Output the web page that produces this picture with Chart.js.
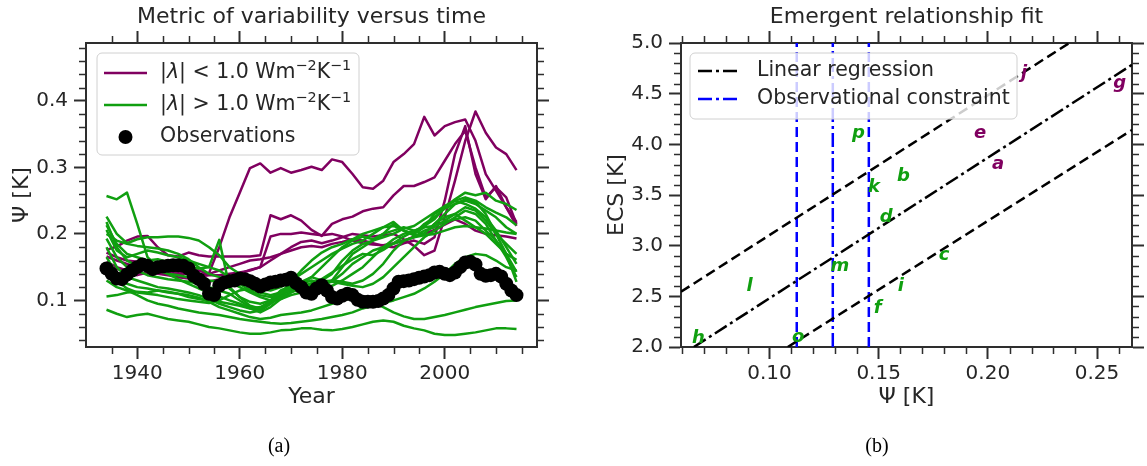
<!DOCTYPE html>
<html>
<head>
<meta charset="utf-8">
<script src="https://cdn.jsdelivr.net/npm/chart.js@4.4.1/dist/chart.umd.min.js"></script>
<style>
  body { margin: 0; background: #fff; width: 1147px; height: 466px; overflow: hidden; position: relative; }
  canvas { position: absolute; top: 0; }
  #panelA { left: 0; }
  #panelB { left: 573px; }
  .sub { position: absolute; top: 434px; font-family: "Liberation Serif", serif; font-size: 20px; color: #000; transform: translateX(-50%); }
</style>
</head>
<body>
<canvas id="panelA" width="573" height="466"></canvas>
<canvas id="panelB" width="574" height="466"></canvas>
<div class="sub" style="left:279px">(a)</div>
<div class="sub" style="left:877px">(b)</div>
<script>
// colours / fonts
const PURPLE = '#800060';
const GREEN = '#109f10';
const INK = '#262626';
const FRAME = '#2e2e2e';
const FONT = '"DejaVu Sans", sans-serif';

// ---- panel (a): metric of variability versus time ----
const obsYears = Array.from({length: 81}, (_, i) => 1934 + i);
const obsPsi = [
  0.148,0.140,0.133,0.132,0.139,0.145,0.150,0.154,0.152,0.147,
  0.150,0.151,0.152,0.153,0.153,0.152,0.148,0.137,0.132,0.125,
  0.110,0.108,0.122,0.127,0.129,0.130,0.133,0.132,0.129,0.125,
  0.121,0.124,0.127,0.128,0.130,0.131,0.134,0.126,0.120,0.112,
  0.110,0.118,0.123,0.115,0.105,0.103,0.107,0.110,0.108,0.101,
  0.098,0.098,0.098,0.099,0.103,0.108,0.118,0.128,0.129,0.130,
  0.132,0.134,0.136,0.138,0.142,0.143,0.140,0.138,0.142,0.150,
  0.157,0.158,0.154,0.140,0.137,0.138,0.140,0.136,0.125,0.115,
  0.108
];

const modelYears = Array.from({length: 41}, (_, i) => 1934 + 2 * i);

// models with |lambda| < 1.0
const lowLambda = [
  [.158,.150,.145,.148,.146,.146,.144,.142,.140,.138, .141,.180,.225,.262,.299,.306,.292,.299,.292,.296,
   .301,.296,.312,.308,.290,.270,.268,.280,.308,.320, .335,.376,.348,.362,.368,.372,.340,.290,.265,.240, .218],
  [.176,.181,.190,.196,.197,.180,.168,.166,.172,.168, .166,.166,.166,.166,.166,.168,.228,.222,.228,.220,
   .206,.197,.215,.222,.226,.234,.238,.240,.258,.272, .272,.278,.285,.310,.335,.355,.300,.255,.270,.255, .215],
  [.166,.160,.155,.150,.152,.146,.142,.140,.140,.136, .138,.138,.140,.142,.145,.150,.196,.200,.200,.202,
   .200,.198,.200,.196,.190,.186,.184,.183,.186,.190, .196,.200,.206,.214,.222,.215,.205,.200,.198,.196, .193],
  [.150,.148,.140,.138,.142,.140,.138,.135,.133,.130, .128,.132,.136,.140,.146,.150,.160,.170,.180,.188,
   .190,.186,.190,.195,.200,.198,.196,.198,.200,.192, .182,.168,.175,.225,.280,.340,.384,.352,.330,.320, .296],
  [.172,.165,.160,.158,.150,.150,.152,.155,.150,.145, .140,.145,.150,.155,.160,.162,.165,.170,.175,.180,
   .182,.180,.185,.188,.192,.190,.186,.182,.180,.186, .190,.185,.195,.250,.320,.362,.290,.252,.272,.240, .212]
];

// models with |lambda| > 1.0
const highLambda = [
  [.257,.252,.262,.215,.165,.150,.140,.132,.125,.118, .112,.106,.100,.095,.088,.082,.090,.102,.112,.120,
   .126,.132,.142,.152,.162,.170,.168,.176,.186,.196, .204,.212,.222,.240,.252,.262,.258,.262,.250,.245, .236],
  [.226,.200,.186,.192,.195,.195,.196,.196,.194,.190, .180,.168,.150,.140,.128,.118,.115,.120,.130,.140,
   .150,.160,.170,.178,.185,.190,.200,.210,.212,.205, .200,.210,.230,.240,.250,.255,.250,.240,.232,.225, .213],
  [.218,.180,.160,.152,.150,.145,.140,.138,.135,.132, .130,.128,.118,.105,.092,.088,.100,.115,.122,.125,
   .135,.150,.165,.180,.190,.196,.192,.200,.215,.205, .198,.200,.215,.225,.230,.220,.210,.200,.185,.170, .161],
  [.213,.185,.170,.165,.160,.162,.158,.155,.150,.148, .150,.191,.120,.105,.098,.095,.100,.110,.128,.145,
   .160,.172,.180,.185,.192,.200,.205,.210,.218,.205, .200,.215,.225,.238,.245,.252,.248,.230,.200,.170, .143],
  [.206,.175,.165,.170,.175,.172,.168,.165,.160,.155, .150,.145,.135,.125,.115,.108,.105,.110,.118,.128,
   .135,.130,.140,.160,.175,.185,.190,.195,.200,.208, .212,.222,.232,.242,.250,.245,.238,.225,.205,.180, .155],
  [.193,.165,.150,.145,.138,.135,.132,.130,.128,.125, .120,.115,.110,.100,.090,.085,.095,.110,.120,.125,
   .130,.125,.128,.140,.155,.165,.175,.180,.192,.200, .205,.210,.212,.218,.222,.225,.220,.205,.190,.170, .128],
  [.180,.150,.135,.130,.125,.120,.118,.115,.112,.108, .102,.095,.090,.085,.082,.085,.095,.105,.112,.118,
   .120,.118,.122,.130,.140,.150,.165,.180,.185,.190, .195,.205,.210,.220,.230,.240,.235,.220,.200,.185, .170],
  [.165,.140,.125,.120,.118,.115,.112,.110,.105,.102, .100,.098,.095,.092,.088,.090,.098,.108,.115,.120,
   .122,.128,.130,.128,.125,.130,.140,.155,.175,.190, .195,.198,.200,.205,.210,.212,.210,.208,.205,.202, .200],
  [.150,.130,.118,.112,.110,.108,.105,.102,.100,.098, .096,.100,.108,.115,.118,.112,.108,.112,.118,.122,
   .125,.130,.128,.125,.122,.120,.125,.135,.150,.165, .180,.195,.205,.215,.225,.235,.230,.215,.190,.165, .135],
  [.106,.108,.112,.113,.112,.115,.113,.110,.108,.104, .098,.090,.085,.080,.075,.072,.074,.078,.080,.082,
   .085,.090,.095,.100,.104,.102,.098,.090,.082,.076, .072,.072,.075,.078,.082,.086,.090,.093,.096,.099, .100],
  [.086,.080,.075,.078,.080,.076,.072,.070,.068,.064, .060,.058,.055,.052,.050,.050,.052,.055,.056,.058,
   .058,.056,.055,.057,.060,.064,.068,.070,.068,.062, .058,.055,.050,.048,.048,.050,.052,.055,.058,.058, .057],
  [.130,.120,.115,.108,.100,.095,.092,.088,.085,.082, .080,.078,.075,.072,.070,.068,.066,.065,.066,.068,
   .070,.072,.075,.078,.082,.088,.092,.096,.100,.105, .110,.118,.128,.140,.155,.165,.170,.168,.160,.150, .145],
  [.200,.190,.185,.182,.180,.178,.175,.170,.162,.150, .140,.135,.128,.120,.112,.105,.100,.102,.108,.112,
   .115,.120,.130,.150,.170,.180,.190,.200,.205,.210, .205,.200,.215,.230,.245,.250,.245,.235,.225,.210, .200]
];

// ---- panel (b): emergent relationship fit ----
const modelLabels = ['a','b','c','d','e','f','g','h','i','j','k','l','m','o','p'];
const modelGroup  = ['low','high','high','high','low','high','low','high','high','low','high','high','high','high','high'];
const modelPsi = [0.2047,0.1614,0.1800,0.1534,0.1964,0.1495,0.2604,0.0675,0.1601,0.2166,0.1479,0.0909,0.1323,0.1132,0.1407];
const modelEcs = [3.805,3.686,2.900,3.280,4.110,2.386,4.600,2.090,2.594,4.700,3.580,2.594,2.800,2.100,4.110];

const fitPsi = [0.0654, 0.266];
const fitEcs = [2.0, 4.785];
const upperPsi = [0.0595, 0.2373];
const upperEcs = [2.545, 5.0];
const lowerPsi = [0.1084, 0.266];
const lowerEcs = [2.0, 4.142];
const constraintPsi = [0.1125, 0.129, 0.1455];   // low, best, high

// ---- helpers ----
const tickFont = {family: FONT, size: 20};
const labelFont = {family: FONT, size: 22};
const border = {display: true, color: FRAME, width: 2};
function majorGrid() {
  return {drawOnChartArea: false, drawTicks: true, tickLength: 12, tickWidth: 2, tickColor: FRAME};
}
function pts(xs, ys) { return xs.map((x, i) => ({x: x, y: ys[i]})); }
function steps(from, to, step, skip) {
  const out = [];
  for (let k = Math.round(from / step); k * step <= to + 1e-9; k++) {
    const v = +(k * step).toFixed(4);
    if (Math.abs(v / skip - Math.round(v / skip)) > 1e-6) out.push(v);
  }
  return out;
}

function drawRich(ctx, parts, x, y, size) {
  parts.forEach(p => {
    const sup = p[1], it = p[2];
    const fs = sup ? size * 0.7 : size;
    ctx.font = (it ? 'italic ' : '') + fs + 'px ' + FONT;
    ctx.fillText(p[0], x, sup ? y - size * 0.33 : y);
    x += ctx.measureText(p[0]).width;
  });
}

const minorTicks = {
  id: 'minorTicks',
  afterDraw(chart, args, o) {
    const {ctx, chartArea: a, scales} = chart;
    ctx.save();
    ctx.strokeStyle = FRAME;
    ctx.lineWidth = 1.5;
    ctx.beginPath();
    o.x.forEach(v => {
      const px = Math.round(scales.x.getPixelForValue(v)) + 0.5;
      ctx.moveTo(px, a.bottom); ctx.lineTo(px, a.bottom + 7);
      ctx.moveTo(px, a.top); ctx.lineTo(px, a.top - 7);
    });
    o.y.forEach(v => {
      const py = Math.round(scales.y.getPixelForValue(v)) + 0.5;
      ctx.moveTo(a.left, py); ctx.lineTo(a.left - 7, py);
      ctx.moveTo(a.right, py); ctx.lineTo(a.right + 7, py);
    });
    ctx.stroke();
    ctx.restore();
  }
};

const boxLegend = {
  id: 'boxLegend',
  afterDraw(chart, args, o) {
    const ctx = chart.ctx;
    ctx.save();
    ctx.beginPath();
    ctx.roundRect(o.x, o.y, o.w, o.h, 5);
    ctx.fillStyle = 'rgba(255,255,255,0.8)';
    ctx.fill();
    ctx.strokeStyle = '#d0d0d0';
    ctx.lineWidth = 1;
    ctx.stroke();
    o.items.forEach((it, i) => {
      const cy = o.rows[i];
      if (it.dot) {
        ctx.fillStyle = it.color;
        ctx.beginPath();
        ctx.arc((o.s0 + o.s1) / 2, cy, 7, 0, Math.PI * 2);
        ctx.fill();
      } else {
        ctx.strokeStyle = it.color;
        ctx.lineWidth = 2.5;
        ctx.setLineDash(it.dash || []);
        ctx.beginPath();
        ctx.moveTo(o.s0, cy);
        ctx.lineTo(o.s1, cy);
        ctx.stroke();
        ctx.setLineDash([]);
      }
      ctx.fillStyle = INK;
      ctx.textBaseline = 'middle';
      ctx.textAlign = 'left';
      drawRich(ctx, it.text, o.tx, cy, 20.5);
    });
    ctx.restore();
  }
};

const letterLabels = {
  id: 'letterLabels',
  afterDatasetsDraw(chart) {
    const ctx = chart.ctx;
    const meta = chart.getDatasetMeta(chart.data.datasets.length - 1);
    ctx.save();
    ctx.font = 'italic bold 18px ' + FONT;
    ctx.textAlign = 'center';
    ctx.textBaseline = 'middle';
    meta.data.forEach((el, i) => {
      ctx.fillStyle = modelGroup[i] === 'low' ? PURPLE : GREEN;
      ctx.fillText(modelLabels[i], el.x, el.y);
    });
    ctx.restore();
  }
};

function scalesFor(c) {
  return {
    x: {type: 'linear', position: 'bottom', min: c.xmin, max: c.xmax,
        ticks: {stepSize: c.xstep, includeBounds: false, autoSkip: false, maxRotation: 0, padding: 3,
                color: INK, font: tickFont, callback: v => v.toFixed(c.xdec)},
        grid: majorGrid(), border: border,
        title: {display: true, text: c.xtitle, color: INK, font: labelFont, padding: {top: 0, bottom: 56}},
        afterFit: s => { s.height = 119; }},
    xTop: {type: 'linear', position: 'top', min: c.xmin, max: c.xmax,
        ticks: {stepSize: c.xstep, includeBounds: false, autoSkip: false, maxRotation: 0, callback: () => ''},
        grid: majorGrid(), border: border,
        title: {display: true, text: c.title, color: INK, font: labelFont, padding: {top: 4, bottom: 0}},
        afterFit: s => { s.height = 43; }},
    y: {type: 'linear', position: 'left', min: c.ymin, max: c.ymax,
        ticks: {stepSize: c.ystep, includeBounds: false, autoSkip: false, padding: 6,
                color: INK, font: tickFont, callback: v => v.toFixed(1)},
        grid: majorGrid(), border: border,
        title: {display: true, text: c.ytitle, color: INK, font: labelFont, padding: {top: c.ytpad, bottom: 0}},
        afterFit: s => { s.width = c.left; }},
    yRight: {type: 'linear', position: 'right', min: c.ymin, max: c.ymax,
        ticks: {stepSize: c.ystep, includeBounds: false, autoSkip: false, callback: () => ''},
        grid: majorGrid(), border: border,
        afterFit: s => { s.width = c.right; }}
  };
}

// ---- chart (a) ----
const aSets = [{
  label: 'Observations', data: pts(obsYears, obsPsi), showLine: false,
  pointRadius: 7, pointBackgroundColor: '#000', pointBorderWidth: 0, pointBorderColor: '#000', order: 0
}];
lowLambda.forEach(s => aSets.push({data: pts(modelYears, s), borderColor: PURPLE, borderWidth: 2.5,
  pointRadius: 0, borderJoinStyle: 'round', order: 2}));
highLambda.forEach(s => aSets.push({data: pts(modelYears, s), borderColor: GREEN, borderWidth: 2.5,
  pointRadius: 0, borderJoinStyle: 'round', order: 1}));

new Chart(document.getElementById('panelA'), {
  type: 'line',
  data: {datasets: aSets},
  options: {
    responsive: false, animation: false,
    layout: {padding: 0},
    scales: scalesFor({xmin: 1930, xmax: 2018, xstep: 20, xdec: 0, xtitle: 'Year',
      title: 'Metric of variability versus time', ymin: 0.03, ymax: 0.487, ystep: 0.1,
      ytitle: 'Ψ [K]', ytpad: 9, left: 86, right: 36}),
    plugins: {
      legend: {display: false}, tooltip: {enabled: false},
      minorTicks: {x: steps(1930, 2016, 5, 20).filter(v => v > 1930), y: steps(0.04, 0.48, 0.02, 0.1)},
      boxLegend: {x: 97, y: 53, w: 262, h: 102, rows: [73, 105, 137], s0: 104, s1: 147, tx: 160,
        items: [
          {color: PURPLE, text: [['|'], ['λ', 0, 1], ['| < 1.0 Wm'], ['−2', 1], ['K'], ['−1', 1]]},
          {color: GREEN, text: [['|'], ['λ', 0, 1], ['| > 1.0 Wm'], ['−2', 1], ['K'], ['−1', 1]]},
          {color: '#000', dot: true, text: [['Observations']]}
        ]}
    }
  },
  plugins: [minorTicks, boxLegend]
});

// ---- chart (b) ----
const dashed = [10, 5];
const dashDot = [14, 4, 3, 4];
const bSets = [
  {data: pts(fitPsi, fitEcs), borderColor: '#000', borderWidth: 2.5, borderDash: dashDot, pointRadius: 0},
  {data: pts(upperPsi, upperEcs), borderColor: '#000', borderWidth: 2.5, borderDash: dashed, pointRadius: 0},
  {data: pts(lowerPsi, lowerEcs), borderColor: '#000', borderWidth: 2.5, borderDash: dashed, pointRadius: 0}
];
constraintPsi.forEach((v, i) => bSets.push({
  data: pts([v, v], [2, 5]), borderColor: '#0000ff', borderWidth: 2.5,
  borderDash: i === 1 ? dashDot : dashed, pointRadius: 0
}));
bSets.push({data: pts(modelPsi, modelEcs), showLine: false, pointRadius: 0});

new Chart(document.getElementById('panelB'), {
  type: 'line',
  data: {datasets: bSets},
  options: {
    responsive: false, animation: false,
    layout: {padding: 0},
    scales: scalesFor({xmin: 0.0595, xmax: 0.266, xstep: 0.05, xdec: 2, xtitle: 'Ψ [K]',
      title: 'Emergent relationship fit', ymin: 2, ymax: 5, ystep: 0.5,
      ytitle: 'ECS [K]', ytpad: 31, left: 108, right: 15}),
    plugins: {
      legend: {display: false}, tooltip: {enabled: false},
      minorTicks: {x: steps(0.06, 0.26, 0.01, 0.05), y: steps(2.1, 4.9, 0.1, 0.5)},
      boxLegend: {x: 117, y: 53, w: 327, h: 66, rows: [71, 99], s0: 125, s1: 167, tx: 184,
        items: [
          {color: '#000', dash: dashDot, text: [['Linear regression']]},
          {color: '#0000ff', dash: dashDot, text: [['Observational constraint']]}
        ]}
    }
  },
  plugins: [minorTicks, letterLabels, boxLegend]
});
</script>
</body>
</html>
